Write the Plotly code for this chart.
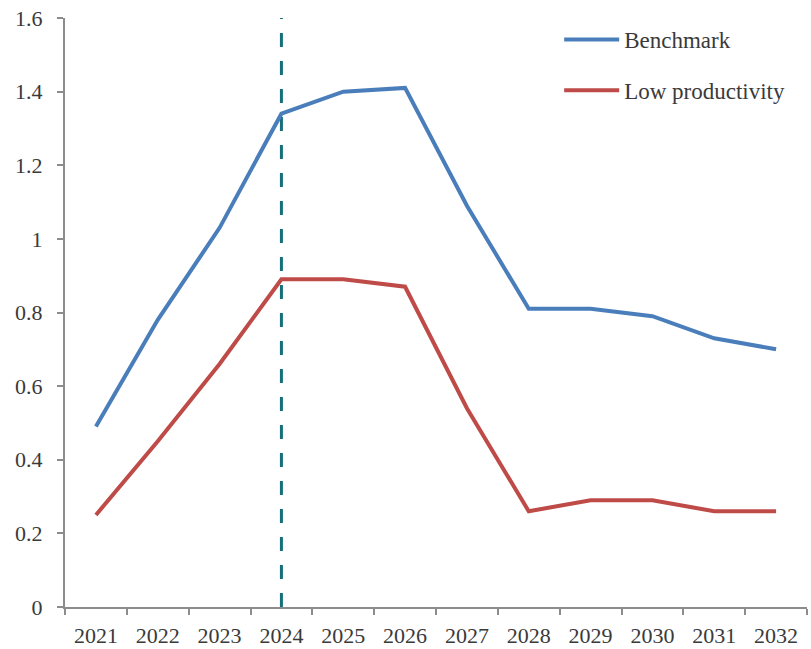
import plotly.graph_objects as go

years = ["2021", "2022", "2023", "2024", "2025", "2026", "2027", "2028", "2029", "2030", "2031", "2032"]
benchmark = [0.49, 0.78, 1.03, 1.34, 1.40, 1.41, 1.09, 0.81, 0.81, 0.79, 0.73, 0.70]
low_prod = [0.25, 0.45, 0.66, 0.89, 0.89, 0.87, 0.54, 0.26, 0.29, 0.29, 0.26, 0.26]
marker_year = "2024"

fig = go.Figure()
fig.add_trace(go.Scatter(x=years, y=benchmark, mode="lines", name="Benchmark",
                         legendgroup="a",
                         line=dict(color="#4a7ebb", width=4)))
fig.add_trace(go.Scatter(x=years, y=low_prod, mode="lines", name="Low productivity",
                         legendgroup="b",
                         line=dict(color="#be4b48", width=4)))

mi = years.index(marker_year)
fig.add_shape(type="line", xref="x", yref="paper", x0=mi, x1=mi, y0=0, y1=1,
              line=dict(color="#16707a", width=3, dash="14px,14px"), layer="below")

axis_font = dict(family="Liberation Serif", size=22, color="#3a3a3a")
fig.update_layout(
    width=811, height=649,
    margin=dict(l=65, r=4, t=18, b=42, autoexpand=False),
    plot_bgcolor="white", paper_bgcolor="white",
    font=axis_font,
    showlegend=True,
    legend=dict(x=0.666, y=1.0, xanchor="left", yanchor="top",
                font=dict(family="Liberation Serif", size=23, color="#3a3a3a"),
                tracegroupgap=18, itemwidth=55, bgcolor="rgba(0,0,0,0)"),
    xaxis=dict(type="category", range=[-0.5, len(years) - 0.5], tickson="boundaries",
               ticks="outside", ticklen=6, tickangle=0, ticklabelstandoff=8,
               automargin=False,
               tickcolor="#8c8c8c", tickwidth=2, showline=True, linecolor="#8c8c8c",
               linewidth=2, showgrid=False, zeroline=False, tickfont=axis_font),
    yaxis=dict(range=[0, 1.6], dtick=0.2, ticks="outside", ticklen=6, tickcolor="#8c8c8c",
               tickwidth=2, showline=True, linecolor="#8c8c8c", linewidth=2,
               ticklabelstandoff=10, ticklabeloverflow="allow", automargin=False,
               showgrid=False, zeroline=False, tickfont=axis_font),
)

fig.write_html("out.html", config={"displayModeBar": False},
               post_script="document.body.style.margin='0';")
